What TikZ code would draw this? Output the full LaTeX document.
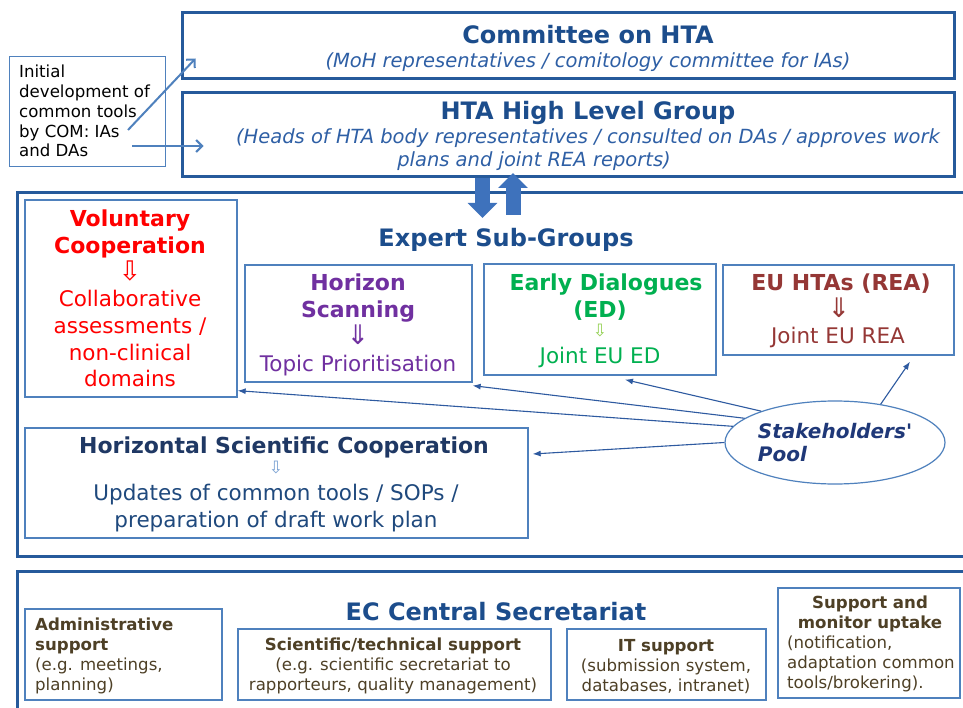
\documentclass[tikz,border=0pt]{standalone}
\usepackage{fontspec}
\setmainfont{DejaVu Sans}
\usetikzlibrary{arrows.meta,shapes.geometric}

\definecolor{frameblue}{RGB}{38,90,155}
\definecolor{boxblue}{RGB}{79,129,189}
\definecolor{titleblue}{RGB}{28,77,140}
\definecolor{subblue}{RGB}{46,95,165}
\definecolor{arrowblue}{RGB}{62,114,188}
\definecolor{poolblue}{RGB}{46,90,160}
\definecolor{pooltext}{RGB}{31,56,120}
\definecolor{volred}{RGB}{255,0,0}
\definecolor{hspurple}{RGB}{112,48,160}
\definecolor{edgreen}{RGB}{0,176,80}
\definecolor{edlight}{RGB}{146,208,80}
\definecolor{reared}{RGB}{149,55,53}
\definecolor{hscdark}{RGB}{31,56,100}
\definecolor{hscbody}{RGB}{31,73,125}
\definecolor{hsclight}{RGB}{120,160,210}
\definecolor{secbrown}{RGB}{78,64,38}

\begin{document}
\begin{tikzpicture}[x=1pt,y=-1pt,
	bigframe/.style={draw=frameblue,line width=3pt,inner sep=0pt},
	thinbox/.style={draw=boxblue,line width=1.3pt,inner sep=0pt},
	txt/.style={anchor=base,inner sep=0pt},
	ttl/.style={txt,font=\fontsize{24}{28}\selectfont\bfseries,text=titleblue},
	sub/.style={txt,font=\fontsize{19.5}{23}\selectfont\itshape,text=subblue},
	hd/.style={txt,font=\fontsize{22}{26}\selectfont\bfseries},
	bd/.style={txt,font=\fontsize{21.5}{26}\selectfont},
	arr/.style={anchor=center,inner sep=0pt,font=\fontsize{27}{27}\selectfont},
	smallarr/.style={arr,font=\fontsize{17}{17}\selectfont},
	sm/.style={txt,font=\fontsize{16.6}{20}\selectfont,text=secbrown},
	smb/.style={sm,font=\fontsize{16.6}{20}\selectfont\bfseries},
	blockarrow/.style={draw=arrowblue,line width=15pt,-{Triangle[width=29pt,length=15pt]}},
	linkarrow/.style={draw=boxblue,line width=2pt,-{Straight Barb[length=6pt,width=12pt]}},
	poolarrow/.style={draw=poolblue,line width=1.1pt,-{Latex[length=8pt,width=6pt]}}]

\fill[white] (0,0) rectangle (963,708);
\useasboundingbox (0,0) rectangle (963,708);

% top boxes
\node[thinbox,line width=1pt,minimum width=156pt,minimum height=110pt] (Init) at (87,112) {};
\node[bigframe,minimum width=772pt,minimum height=66pt] (Committee) at (568,46) {};
\node[bigframe,minimum width=772pt,minimum height=84pt] (HLG) at (568,135) {};

\foreach \t [count=\i] in {Initial, development of, common tools, by COM: IAs, and DAs}
	\node[sm,text=black,anchor=base west] (Init-\i) at (19,58.25+19.75*\i) {\t};

\node[ttl] (ComTitle) at (588,44) {Committee on HTA};
\node[sub] (ComSub) at (588,68) {(MoH representatives / comitology committee for IAs)};
\node[ttl] (HLGTitle) at (588,120) {HTA High Level Group};
\node[sub] (HLGSub-1) at (588,144) {(Heads of HTA body representatives / consulted on DAs / approves work};
\node[sub] (HLGSub-2) at (534,167) {plans and joint REA reports)};

\draw[linkarrow] ([shift={(41pt,-18pt)}]Init.center) -- ([shift={(15pt,22pt)}]Committee.south west);
\draw[linkarrow] ([shift={(45pt,-34pt)}]Init.center) -- ([shift={(23pt,-11pt)}]HLG.west);

% expert sub-groups (frame runs off the right edge)
\draw[frameblue,line width=3pt] (970,193) -- (17,193) -- (17,556) -- (970,556);
\node[ttl] (ExpTitle) at (506,247) {Expert Sub-Groups};

\node[thinbox,minimum width=212pt,minimum height=197pt] (Vol) at (131,298.5) {};
\foreach \t [count=\i] in {Voluntary, Cooperation}
	\node[hd,text=volred] (VolT-\i) at (130,200+27*\i) {\t};
\node[arr,text=volred] (VolA) at (130,271) {⇩};
\foreach \t [count=\i] in {Collaborative, assessments /, non-clinical, domains}
	\node[bd,text=volred] (VolB-\i) at (130,280+26.7*\i) {\t};

\node[thinbox,minimum width=227pt,minimum height=117pt] (HS) at (358.5,323.5) {};
\foreach \t [count=\i] in {Horizon, Scanning}
	\node[hd,text=hspurple] (HST-\i) at (358,264+27*\i) {\t};
\node[arr,text=hspurple] (HSA) at (358,334.5) {⇓};
\node[bd,text=hspurple] (HSB) at (358,371) {Topic Prioritisation};

\node[thinbox,minimum width=232pt,minimum height=111pt] (ED) at (600,319.5) {};
\node[hd,text=edgreen] (EDT-1) at (606,291) {Early Dialogues};
\node[hd,text=edgreen] (EDT-2) at (600,318) {(ED)};
\node[smallarr,text=edlight] (EDA) at (600,330.5) {⇩};
\node[bd,text=edgreen] (EDB) at (600,363) {Joint EU ED};

\node[thinbox,minimum width=231pt,minimum height=90pt] (REA) at (838.5,310) {};
\node[hd,text=reared] (REAT) at (841,291) {EU HTAs (REA)};
\node[arr,text=reared] (REAA) at (839,307.5) {⇓};
\node[bd,text=reared] (REAB) at (838,344) {Joint EU REA};

\node[thinbox,minimum width=503pt,minimum height=110pt] (HSC) at (276.5,483) {};
\node[hd,text=hscdark] (HSCT) at (284,453) {Horizontal Scientific Cooperation};
\node[smallarr,text=hsclight] (HSCA) at (276,467.5) {⇩};
\foreach \t [count=\i] in {Updates of common tools / SOPs /, preparation of draft work plan}
	\node[bd,text=hscbody] (HSCB-\i) at (276,473+27*\i) {\t};

\node[ellipse,draw=boxblue,line width=1.2pt,minimum width=220pt,minimum height=83pt,inner sep=0pt,
	align=left,font=\fontsize{20}{23}\selectfont\bfseries\itshape,text=pooltext] (Pool) at (835,442.5) {Stakeholders\textquotesingle\\Pool};

\draw[poolarrow] (Pool.171) -- ([yshift=7pt]Vol.south east);
\draw[poolarrow] (Pool.165) -- ([yshift=-3pt]HS.south east);
\draw[poolarrow] (Pool.157) -- ([shift={(25pt,-4pt)}]ED.south);
\draw[poolarrow] (Pool.180) -- ([shift={(4pt,29pt)}]HSC.east);
\draw[poolarrow] (Pool.40) -- ([shift={(71.5pt,-6pt)}]REA.south);

% HLG <-> expert groups
\coordinate (DownTip) at (482.5,218);
\coordinate (UpBase) at (513,215);
\coordinate (UpTip) at (513,173);
\draw[blockarrow] (HLG.south -| DownTip) -- (DownTip);
\draw[blockarrow] (UpBase) -- (UpTip);

% secretariat (frame runs off the right and bottom edges)
\draw[frameblue,line width=3pt] (970,571) -- (17,571) -- (17,715);
\node[ttl] (ECTitle) at (496,620) {EC Central Secretariat};

\node[thinbox,minimum width=197pt,minimum height=91pt] (Adm) at (123.5,654.5) {};
\foreach \t [count=\i] in {Administrative, support}
	\node[smb,anchor=base west] (AdmT-\i) at (35,610+20*\i) {\t};
\foreach \t [count=\i] in {{(e.g. meetings,}, planning)}
	\node[sm,anchor=base west] (AdmB-\i) at (35,650+20*\i) {\t};

\node[thinbox,minimum width=313pt,minimum height=71pt] (Sci) at (394.5,664.5) {};
\node[smb] (SciT) at (393,650) {Scientific/technical support};
\foreach \t [count=\i] in {{(e.g. scientific secretariat to}, {rapporteurs, quality management)}}
	\node[sm] (SciB-\i) at (393,650+20*\i) {\t};

\node[thinbox,minimum width=199pt,minimum height=71pt] (IT) at (666.5,664.5) {};
\node[smb] (ITT) at (666,651) {IT support};
\foreach \t [count=\i] in {{(submission system,}, {databases, intranet)}}
	\node[sm] (ITB-\i) at (666,651+20*\i) {\t};

\node[thinbox,minimum width=182pt,minimum height=110pt] (Sup) at (869,643) {};
\foreach \t [count=\i] in {Support and, monitor uptake}
	\node[smb] (SupT-\i) at (870,588+20*\i) {\t};
\foreach \t [count=\i] in {{(notification,}, adaptation common, tools/brokering).}
	\node[sm,anchor=base west] (SupB-\i) at (787,628+20*\i) {\t};

\end{tikzpicture}
\end{document}
